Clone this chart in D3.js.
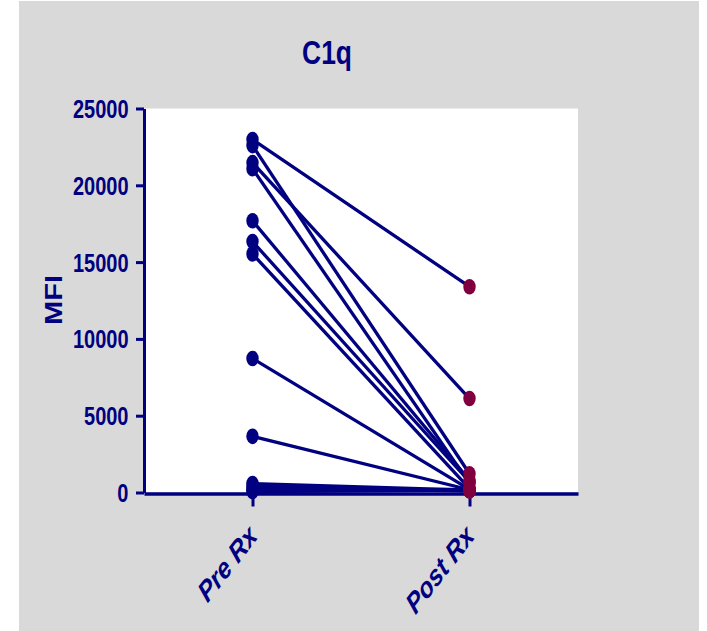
<!DOCTYPE html>
<html>
<head>
<meta charset="utf-8">
<script src="https://cdn.jsdelivr.net/npm/d3@7"></script>
<style>
  html, body { margin: 0; padding: 0; background: #ffffff; }
  svg { display: block; }
  text { font-family: "Liberation Sans", Arial, sans-serif; font-weight: bold; fill: #000080; }
</style>
</head>
<body>
<svg id="chart" width="707" height="631"></svg>
<script>
// C1q MFI before and after treatment, one line per subject
const groups = ["Pre Rx", "Post Rx"];
const preRx  = [22977, 22585, 21475, 21084, 17690, 16338, 15535, 8727, 3655, 580, 420, 300, 150, 60];
const postRx = [13400, 1220, 6116, 590, 800, 700, 250, 200, 180, 150, 120, 100, 200, 160];
const yTicks = [0, 5000, 10000, 15000, 20000, 25000];
const title = "C1q";
const yLabel = "MFI";

const NAVY = "#000080";
const MAROON = "#80003f";
const SX = 0.8; // horizontal squeeze of all lettering

const svg = d3.select("#chart");

// page background panel
svg.append("rect").attr("x", 19).attr("y", 1).attr("width", 680).attr("height", 630).attr("fill", "#d9d9d9");

const plot = { left: 144, right: 578, top: 108.5, bottom: 492.5 };

const x = d3.scalePoint().domain(groups).range([plot.left, plot.right]).padding(0.5);
const y = d3.scaleLinear().domain([0, 25000]).range([plot.bottom, plot.top]);

// white plotting area
svg.append("rect")
  .attr("x", plot.left).attr("y", plot.top)
  .attr("width", plot.right - plot.left).attr("height", plot.bottom - plot.top)
  .attr("fill", "#ffffff");

function label(parent, txt, tx, ty, size, opts = {}) {
  return parent.append("text")
    .attr("transform", `translate(${tx},${ty}) scale(${SX},1) rotate(${opts.rotate || 0})`)
    .attr("text-anchor", opts.anchor || "middle")
    .attr("font-size", size)
    .attr("font-style", opts.italic ? "italic" : "normal")
    .attr("dy", opts.dy || 0)
    .text(txt);
}

// paired lines
const pairs = preRx.map((v, i) => ({ pre: v, post: postRx[i] }));
svg.append("g").selectAll("line").data(pairs).join("line")
  .attr("x1", x(groups[0])).attr("y1", d => y(d.pre))
  .attr("x2", x(groups[1])).attr("y2", d => y(d.post))
  .attr("stroke", NAVY).attr("stroke-width", 3.3);

// Y axis
const yAxis = svg.append("g").attr("transform", `translate(${plot.left},0)`)
  .call(d3.axisLeft(y).tickValues(yTicks).tickSize(8).tickSizeOuter(0).tickFormat(d3.format("d")));
yAxis.select(".domain").attr("stroke", NAVY).attr("stroke-width", 3);
yAxis.selectAll(".tick line").attr("stroke", NAVY).attr("stroke-width", 3);
yAxis.selectAll(".tick text")
  .attr("x", null).attr("dy", "0.36em")
  .attr("transform", `translate(-15.5,0) scale(${SX},1)`)
  .attr("font-size", 25).attr("font-family", null).attr("fill", NAVY);

// X axis
const xAxis = svg.append("g").attr("transform", `translate(0,${plot.bottom + 1})`)
  .call(d3.axisBottom(x).tickSize(13).tickSizeOuter(0).tickFormat(""));
xAxis.select(".domain").attr("stroke", NAVY).attr("stroke-width", 3.5);
xAxis.selectAll(".tick line").attr("stroke", NAVY).attr("stroke-width", 3);

// rotated category labels
groups.forEach(g => {
  label(svg, g, x(g) + 6, plot.bottom + 45, 29, { rotate: -46, anchor: "end", italic: true });
});

// markers
svg.append("g").selectAll("ellipse").data(preRx).join("ellipse")
  .attr("cx", x(groups[0])).attr("cy", d => y(d))
  .attr("rx", 6.2).attr("ry", 7.8).attr("fill", NAVY);
svg.append("g").selectAll("ellipse").data(postRx).join("ellipse")
  .attr("cx", x(groups[1])).attr("cy", d => y(d))
  .attr("rx", 6.2).attr("ry", 7.8).attr("fill", MAROON);

// titles
label(svg, title, 327, 64, 33);
label(svg, yLabel, 62, 300, 29, { rotate: -90 });
</script>
</body>
</html>
